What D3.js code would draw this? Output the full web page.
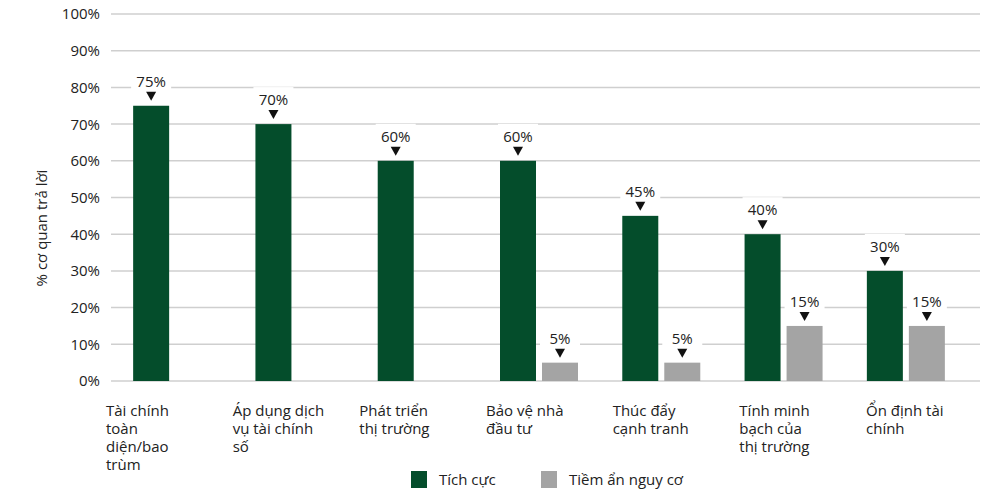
<!DOCTYPE html>
<html>
<head>
<meta charset="utf-8">
<script src="https://cdn.jsdelivr.net/npm/d3@7"></script>
<style>
  body { margin: 0; background: #fff; }
  text { font-family: "Open Sans", sans-serif; fill: #222; }
</style>
</head>
<body>
<div id="chart"></div>
<script>
// Data
const categories = [
    ["Tài chính", "toàn", "diện/bao", "trùm"],
    ["Áp dụng dịch", "vụ tài chính", "số"],
    ["Phát triển", "thị trường"],
    ["Bảo vệ nhà", "đầu tư"],
    ["Thúc đẩy", "cạnh tranh"],
    ["Tính minh", "bạch của", "thị trường"],
    ["Ổn định tài", "chính"]
];
const seriesNames = ["Tích cực", "Tiềm ẩn nguy cơ"];
const positive = [75, 70, 60, 60, 45, 40, 30];
const risk = [0, 0, 0, 5, 5, 15, 15];
const yTicks = [0, 10, 20, 30, 40, 50, 60, 70, 80, 90, 100];
const colors = ["#044d2b", "#a4a4a4"];

const width = 1000, height = 500;
const svg = d3.select("#chart").append("svg")
    .attr("width", width)
    .attr("height", height);

const plot = { left: 111, right: 967, top: 14, bottom: 381 };
const ids = categories.map((d, i) => i);

const x = d3.scaleBand()
    .domain(ids)
    .range([plot.left, plot.right]);

const y = d3.scaleLinear()
    .domain([0, 100])
    .range([plot.bottom, plot.top]);

const barW = 36, gap = 6;
const xSub = d3.scaleOrdinal()
    .domain([0, 1])
    .range([-(barW + gap / 2), gap / 2]);

// Gridlines
svg.append("g")
    .selectAll("line")
    .data(yTicks)
    .join("line")
    .attr("x1", plot.left)
    .attr("x2", 980)
    .attr("y1", d => y(d))
    .attr("y2", d => y(d))
    .attr("stroke", "#cfcfcf")
    .attr("stroke-width", 1.5);

// Y axis labels
svg.append("g")
    .selectAll("text")
    .data(yTicks)
    .join("text")
    .attr("x", 100)
    .attr("y", d => y(d))
    .attr("dy", "0.36em")
    .attr("text-anchor", "end")
    .attr("font-size", 15)
    .text(d => d + "%");

svg.append("text")
    .attr("transform", "rotate(-90)")
    .attr("x", -228)
    .attr("y", 47)
    .attr("text-anchor", "middle")
    .attr("font-size", 15)
    .text("% cơ quan trả lời");

// Bars
const series = [positive, risk];
series.forEach((vals, s) => {
    const g = svg.append("g");
    const items = vals.map((v, i) => ({ i, v })).filter(d => d.v > 0);
    const bx = d => x(d.i) + x.bandwidth() / 2 + xSub(s);

    g.selectAll("rect.bar")
        .data(items)
        .join("rect")
        .attr("class", "bar")
        .attr("x", bx)
        .attr("y", d => y(d.v))
        .attr("width", barW)
        .attr("height", d => y(0) - y(d.v))
        .attr("fill", colors[s]);

    // white box behind the label so gridlines break
    g.selectAll("rect.bg")
        .data(items)
        .join("rect")
        .attr("class", "bg")
        .attr("x", d => bx(d) - 2)
        .attr("y", d => y(d.v) - 37)
        .attr("width", barW + 4)
        .attr("height", 34)
        .attr("fill", "#fff");

    g.selectAll("text")
        .data(items)
        .join("text")
        .attr("x", d => bx(d) + barW / 2)
        .attr("y", d => y(d.v) - 19)
        .attr("text-anchor", "middle")
        .attr("font-size", 15)
        .text(d => d.v + "%");

    g.selectAll("path")
        .data(items)
        .join("path")
        .attr("transform", d => `translate(${bx(d) + barW / 2},${y(d.v) - 5})`)
        .attr("d", "M-5,-9L5,-9L0,0Z")
        .attr("fill", "#111");
});

// Category labels, one text per line
const xLabel = d3.scalePoint()
    .domain(ids)
    .range([106, 866]);

const labelLines = categories.flatMap((lines, i) =>
    lines.map((t, j) => ({ i, j, t })));

svg.append("g")
    .selectAll("text")
    .data(labelLines)
    .join("text")
    .attr("x", d => xLabel(d.i))
    .attr("y", d => 416 + d.j * 18)
    .attr("font-size", 15)
    .text(d => d.t);

// Legend
const legendX = [411, 541];
const legend = svg.append("g")
    .selectAll("g")
    .data(seriesNames)
    .join("g")
    .attr("transform", (d, i) => `translate(${legendX[i]},471)`);

legend.append("rect")
    .attr("width", 16)
    .attr("height", 17)
    .attr("fill", (d, i) => colors[i]);

legend.append("text")
    .attr("x", 28)
    .attr("y", 14)
    .attr("font-size", 15)
    .text(d => d);
</script>
</body>
</html>
